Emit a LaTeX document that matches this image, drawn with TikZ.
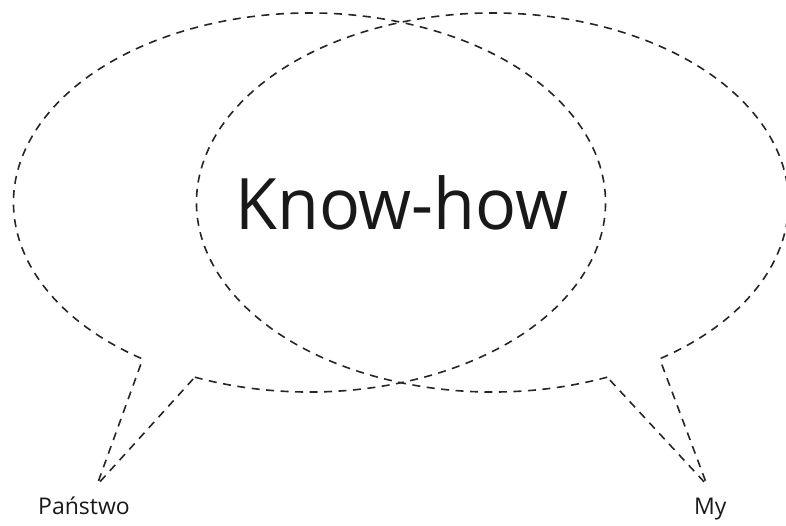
\documentclass[tikz,border=0pt]{standalone}
\usepackage{fontspec}
\setmainfont{Open Sans}
\usetikzlibrary{calc}
\begin{document}
\begin{tikzpicture}[x=1pt,y=1pt,
  bubble/.style={draw=black!85,line width=1.6pt,dash pattern=on 8pt off 6.5pt,rounded corners=1.5pt},
  bigtext/.style={font=\fontsize{71}{80}\selectfont,text=black!90,inner sep=0pt,xscale=0.96},
  smalltext/.style={font=\fontsize{23}{26}\selectfont,text=black!90,inner sep=0pt}]
\useasboundingbox (0,0) rectangle (786,526);
% ellipse centres
\coordinate (cL) at (309.5,323.5);
\coordinate (cR) at (492.5,323.5);
% tail corners and tips
\coordinate (L1) at ($(cL)+(235.7:296 and 189.5)$);
\coordinate (L2) at ($(cL)+(247.2:296 and 189.5)$);
\coordinate (LT) at (97,41);
\coordinate (R1) at ($(cR)+(-55.6:296 and 189.5)$);
\coordinate (R2) at ($(cR)+(-67.2:296 and 189.5)$);
\coordinate (RT) at (707,41);
% left bubble
\draw[bubble] (L2) arc[start angle=247.2,end angle=595.7,x radius=296,y radius=189.5] -- (LT) -- (L2);
% right bubble
\draw[bubble] (R2) arc[start angle=292.8,end angle=-55.6,x radius=296,y radius=189.5] -- (RT) -- (R2);
% texts
\node[bigtext,anchor=base] (kh) at (402,296) {Know-how};
\node[smalltext,anchor=base west] (pa) at (38,11) {Państwo};
\node[smalltext,anchor=base west] (my) at (694,11) {My};
\end{tikzpicture}
\end{document}
